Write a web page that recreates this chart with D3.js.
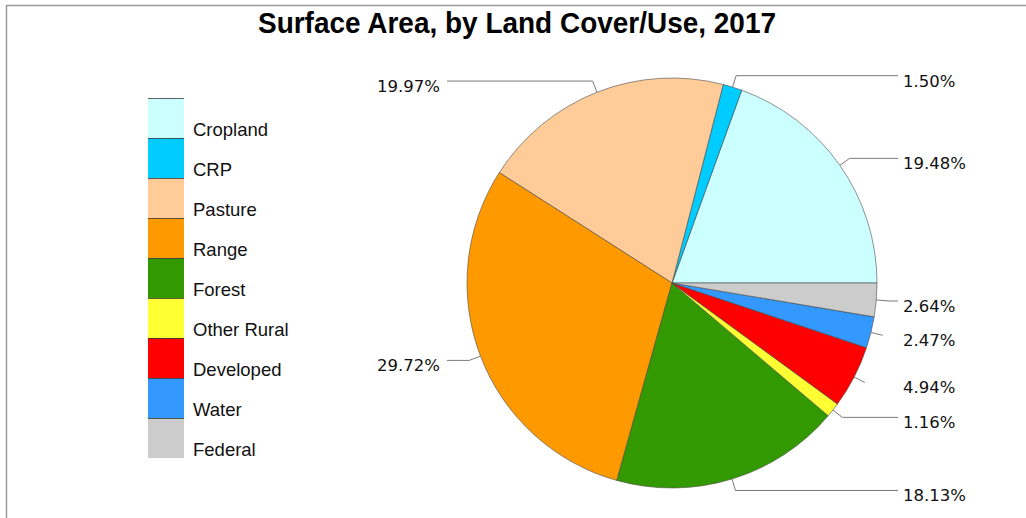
<!DOCTYPE html>
<html>
<head>
<meta charset="utf-8">
<script src="https://cdn.jsdelivr.net/npm/d3@7"></script>
<style>
  html, body { margin: 0; padding: 0; background: #fff; }
  svg { display: block; }
</style>
</head>
<body>
<svg id="chart" width="1026" height="518"></svg>
<script>
// Land cover / use categories, in drawing order (counter-clockwise from 3 o'clock)
const categories = ["Cropland", "CRP", "Pasture", "Range", "Forest", "Other Rural", "Developed", "Water", "Federal"];
// Share of surface area, percent
const shares = [19.48, 1.50, 19.97, 29.72, 18.13, 1.16, 4.94, 2.47, 2.64];
const colors = ["#ccffff", "#00ccff", "#ffcc99", "#ff9900", "#339900", "#ffff33", "#ff0000", "#3399ff", "#cccccc"];
// slices whose labels get only a short tick, no horizontal leader
const tickOnly = ["Developed", "Water"];

const title = "Surface Area, by Land Cover/Use, 2017";

const svg = d3.select("#chart");
const W = 1026, H = 518;

// frame lines
svg.append("line").attr("x1", 6).attr("x2", W).attr("y1", 5.5).attr("y2", 5.5)
  .attr("stroke", "#9a9a9a").attr("stroke-width", 1.5);
svg.append("line").attr("x1", 6.5).attr("x2", 6.5).attr("y1", 5).attr("y2", H)
  .attr("stroke", "#9a9a9a").attr("stroke-width", 1.5);

// title
svg.append("text")
  .attr("x", 517).attr("y", 33)
  .attr("text-anchor", "middle")
  .attr("font-family", "'Liberation Sans Narrow', 'Arial Narrow', 'Liberation Sans', Arial, sans-serif")
  .attr("font-weight", "bold")
  .attr("font-size", 29)
  .attr("textLength", 518)
  .attr("lengthAdjust", "spacingAndGlyphs")
  .attr("fill", "#000")
  .text(title);

const data = categories.map((c, i) => ({ name: c, value: shares[i], color: colors[i] }));

// pie
const cx = 672, cy = 283, R = 205;
const pie = d3.pie().sort(null).value(d => d.value)
  .startAngle(Math.PI / 2).endAngle(Math.PI / 2 - 2 * Math.PI);
const arcs = pie(data);
const arc = d3.arc().innerRadius(0).outerRadius(R);

const g = svg.append("g").attr("transform", `translate(${cx},${cy})`);
g.selectAll("path.slice").data(arcs).join("path")
  .attr("class", "slice")
  .attr("d", arc)
  .attr("fill", d => d.data.color)
  .attr("stroke", "#4a4a4a")
  .attr("stroke-width", 0.6);

// labels with leader lines
const elbowR = R + 12;
const fmt = d3.format(".2f");
const rightLineEnd = 898, rightTextX = 903;
const leftLineEnd = 447, leftTextX = 440;

arcs.forEach(a => {
  const mid = (a.startAngle + a.endAngle) / 2;
  const sx = Math.sin(mid), sy = -Math.cos(mid);
  const p0 = [cx + R * sx, cy + R * sy];
  const p1 = [cx + elbowR * sx, cy + elbowR * sy];
  const right = sx >= 0;
  const pts = [p0, p1];
  if (!tickOnly.includes(a.data.name)) pts.push([right ? rightLineEnd : leftLineEnd, p1[1]]);
  svg.append("path")
    .attr("d", d3.line()(pts))
    .attr("fill", "none")
    .attr("stroke", "#7a7a7a")
    .attr("stroke-width", 1);
  svg.append("text")
    .attr("x", right ? rightTextX : leftTextX)
    .attr("y", p1[1] + 11)
    .attr("text-anchor", right ? "start" : "end")
    .attr("font-family", "'DejaVu Sans', Verdana, sans-serif")
    .attr("font-size", 16.5)
    .attr("fill", "#111")
    .text(fmt(a.data.value) + "%");
});

// legend
const lgX = 148, lgY = 98, sw = 36, sh = 40;
const lg = svg.append("g");
data.forEach((d, i) => {
  const y = lgY + i * sh;
  lg.append("rect").attr("x", lgX).attr("y", y).attr("width", sw).attr("height", sh)
    .attr("fill", d.color);
  lg.append("line").attr("x1", lgX).attr("x2", lgX + sw).attr("y1", y + 0.5).attr("y2", y + 0.5)
    .attr("stroke", "#3a3a3a").attr("stroke-width", 1).attr("opacity", 0.8);
  lg.append("text")
    .attr("x", lgX + 45).attr("y", y + 38)
    .attr("font-family", "'Liberation Sans', Arial, sans-serif")
    .attr("font-size", 18.5)
    .attr("fill", "#111")
    .text(d.name);
});
</script>
</body>
</html>
